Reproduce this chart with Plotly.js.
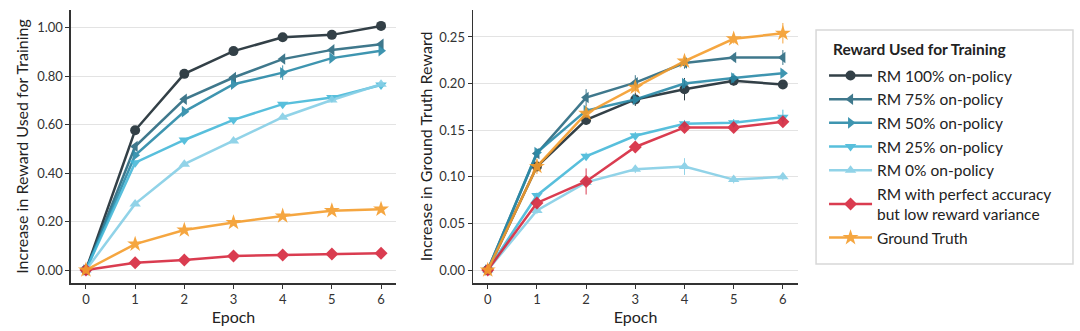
<!DOCTYPE html>
<html>
<head>
<meta charset="utf-8">
<script src="https://cdn.plot.ly/plotly-3.0.1.min.js"></script>
<style>html,body{margin:0;padding:0;background:#fff}#chart{width:1080px;height:331px}</style>
</head>
<body>
<div id="chart"></div>
<script>
const epochs = [0, 1, 2, 3, 4, 5, 6];
const seriesNames = ["RM 100% on-policy", "RM 75% on-policy", "RM 50% on-policy", "RM 25% on-policy", "RM 0% on-policy", "RM with perfect accuracy<br>but low reward variance", "Ground Truth"];
const seriesColors = ["#1d2c34", "#2b6a80", "#2a8aa8", "#46b9d9", "#86cfe6", "#d6283e", "#f59d2c"];
const seriesSymbols = ["circle", "triangle-left", "triangle-right", "triangle-down", "triangle-up", "diamond", "star"];
const legendTitle = "Reward Used for Training";

// Left panel: Increase in Reward Used for Training
const trainRM100 = [0, 0.577, 0.810, 0.904, 0.961, 0.971, 1.008];
const trainRM75  = [0, 0.510, 0.705, 0.795, 0.871, 0.909, 0.932];
const trainRM50  = [0, 0.474, 0.654, 0.767, 0.815, 0.875, 0.905];
const trainRM25  = [0, 0.443, 0.537, 0.620, 0.685, 0.712, 0.764];
const trainRM0   = [0, 0.273, 0.437, 0.533, 0.631, 0.702, 0.767];
const trainPerf  = [0, 0.030, 0.041, 0.058, 0.062, 0.066, 0.069];
const trainGT    = [0, 0.107, 0.165, 0.196, 0.223, 0.245, 0.251];
const trainErrRM100 = [0, 0.008, 0.006, 0.006, 0.006, 0.006, 0.008];
const trainErrRM75  = [0, 0.010, 0.008, 0.008, 0.008, 0.006, 0.008];
const trainErrRM50  = [0, 0.010, 0.008, 0.008, 0.030, 0.008, 0.010];
const trainErrRM25  = [0, 0.008, 0.006, 0.006, 0.008, 0.008, 0.010];
const trainErrRM0   = [0, 0.008, 0.006, 0.006, 0.008, 0.010, 0.012];
const trainErrPerf  = [0, 0.004, 0.004, 0.004, 0.004, 0.004, 0.004];
const trainErrGT    = [0, 0.006, 0.006, 0.006, 0.006, 0.006, 0.008];

// Right panel: Increase in Ground Truth Reward
const gtRM100 = [0, 0.111, 0.161, 0.183, 0.194, 0.203, 0.199];
const gtRM75  = [0, 0.125, 0.185, 0.201, 0.222, 0.228, 0.228];
const gtRM50  = [0, 0.126, 0.171, 0.183, 0.200, 0.206, 0.211];
const gtRM25  = [0, 0.080, 0.122, 0.144, 0.157, 0.158, 0.164];
const gtRM0   = [0, 0.064, 0.094, 0.108, 0.111, 0.097, 0.100];
const gtPerf  = [0, 0.072, 0.095, 0.132, 0.153, 0.153, 0.159];
const gtGT    = [0, 0.111, 0.168, 0.196, 0.224, 0.248, 0.254];
const gtErrRM100 = [0, 0.005, 0.005, 0.007, 0.012, 0.005, 0.004];
const gtErrRM75  = [0, 0.005, 0.009, 0.008, 0.006, 0.004, 0.008];
const gtErrRM50  = [0, 0.004, 0.004, 0.004, 0.005, 0.005, 0.004];
const gtErrRM25  = [0, 0.003, 0.004, 0.004, 0.004, 0.004, 0.008];
const gtErrRM0   = [0, 0.004, 0.004, 0.004, 0.009, 0.004, 0.004];
const gtErrPerf  = [0, 0.004, 0.014, 0.006, 0.006, 0.004, 0.004];
const gtErrGT    = [0, 0.008, 0.005, 0.006, 0.006, 0.005, 0.011];

const trainSeries = [trainRM100, trainRM75, trainRM50, trainRM25, trainRM0, trainPerf, trainGT];
const trainErrors = [trainErrRM100, trainErrRM75, trainErrRM50, trainErrRM25, trainErrRM0, trainErrPerf, trainErrGT];
const gtSeries = [gtRM100, gtRM75, gtRM50, gtRM25, gtRM0, gtPerf, gtGT];
const gtErrors = [gtErrRM100, gtErrRM75, gtErrRM50, gtErrRM25, gtErrRM0, gtErrPerf, gtErrGT];

const FONT = "Lato, 'Open Sans', sans-serif";
const traces = [];
function addTraces(series, errors, xa, ya, showLegend) {
  series.forEach((ys, i) => {
    traces.push({
      type: "scatter", mode: "lines+markers",
      x: epochs, y: ys,
      xaxis: xa, yaxis: ya,
      name: seriesNames[i],
      legendgroup: "g" + i,
      showlegend: showLegend,
      opacity: 0.9,
      line: {color: seriesColors[i], width: 2.5},
      marker: {color: seriesColors[i], symbol: seriesSymbols[i], size: seriesSymbols[i] === "star" ? 12 : 10, line: {width: 0}},
      error_y: {type: "data", array: errors[i], visible: true, color: seriesColors[i], thickness: 1, width: 0}
    });
  });
}
addTraces(trainSeries, trainErrors, "x", "y", true);
addTraces(gtSeries, gtErrors, "x2", "y2", false);

const axisCommon = {
  showline: true, linecolor: "#333", linewidth: 1.5,
  ticks: "outside", ticklen: 4, tickcolor: "#333", tickwidth: 1,
  tickfont: {family: FONT, size: 13, color: "#333"},
  zeroline: false
};
const titleFont = {family: FONT, size: 16, color: "#222"};
const layout = {
  width: 1080, height: 331,
  margin: {l: 0, r: 0, t: 0, b: 0},
  paper_bgcolor: "#fff", plot_bgcolor: "#fff",
  font: {family: FONT, color: "#222"},
  showlegend: true,
  xaxis: Object.assign({}, axisCommon, {
    domain: [0.0657, 0.3667], range: [-0.305, 6.305], dtick: 1, tick0: 0, showgrid: false,
    title: {text: "Epoch", font: titleFont, standoff: 3}
  }),
  yaxis: Object.assign({}, axisCommon, {
    domain: [0.145, 0.970], range: [-0.0537, 1.074], dtick: 0.2, tick0: 0, tickformat: ".2f",
    showgrid: true, gridcolor: "#e3e3e3", gridwidth: 1,
    title: {text: "Increase in Reward Used for Training", font: titleFont, standoff: 4}
  }),
  xaxis2: Object.assign({}, axisCommon, {
    domain: [0.438, 0.739], range: [-0.299, 6.31], dtick: 1, tick0: 0, showgrid: false, anchor: "y2",
    title: {text: "Epoch", font: titleFont, standoff: 3}
  }),
  yaxis2: Object.assign({}, axisCommon, {
    domain: [0.145, 0.970], range: [-0.0139, 0.279], dtick: 0.05, tick0: 0, tickformat: ".2f", anchor: "x2",
    showgrid: true, gridcolor: "#e3e3e3", gridwidth: 1,
    title: {text: "Increase in Ground Truth Reward", font: titleFont, standoff: 2}
  }),
  legend: {
    x: 0.763, y: 0.8218, xanchor: "left", yanchor: "top",
    borderwidth: 0, bgcolor: "rgba(0,0,0,0)",
    font: {family: FONT, size: 15.5, color: "#222"},
    tracegroupgap: 0.5, itemwidth: 43
  },
  annotations: [{
    text: "<b>" + legendTitle + "</b>", xref: "paper", yref: "paper",
    x: 0.7694, y: 0.852, xanchor: "left", yanchor: "middle", showarrow: false,
    font: {family: FONT, size: 15.5, color: "#222"}
  }],
  shapes: [{
    type: "rect", xref: "paper", yref: "paper",
    x0: 0.7556, x1: 0.9935, y0: 0.2024, y1: 0.9094,
    line: {color: "#d8d8d8", width: 1.5}, fillcolor: "rgba(0,0,0,0)", layer: "below"
  }]
};
Plotly.newPlot("chart", traces, layout, {displayModeBar: false, staticPlot: true});
</script>
</body>
</html>
